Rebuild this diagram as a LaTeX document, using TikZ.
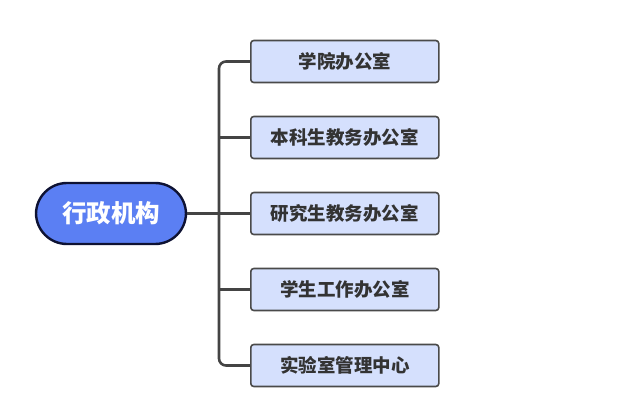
\documentclass[tikz,border=0pt]{standalone}
\usepackage{fontspec}
\setmainfont{Noto Sans CJK SC}
\usepackage{tikz}
\usetikzlibrary{calc,positioning}
\usepackage{xcolor}
\definecolor{rootfill}{HTML}{5B7FF3}
\definecolor{rootline}{HTML}{0E1233}
\definecolor{boxfill}{HTML}{D5E0FD}
\definecolor{boxline}{HTML}{4A4A4A}
\definecolor{linkcol}{HTML}{444444}
\definecolor{textcol}{HTML}{333333}
\tikzset{root/.style={draw=rootline, fill=rootfill, line width=2.4pt,
           rounded corners=31pt, minimum width=150pt, minimum height=61pt,
           text=white, font=\fontsize{24.5}{26}\selectfont\bfseries},
         office/.style={draw=boxline, fill=boxfill, line width=1.6pt,
           rounded corners=3pt, minimum width=188pt, minimum height=42pt,
           inner xsep=20pt, anchor=west, text=textcol,
           font=\fontsize{18.5}{20}\selectfont\bfseries},
         link/.style={draw=linkcol, line width=2.6pt, rounded corners=7pt}}

\begin{document}
\begin{tikzpicture}[x=1pt,y=1pt]
		\useasboundingbox (0,0) rectangle (630,-420);
		\node[root] (admin) at (111,-213.5) {行政机构};
		\node[office] (o1) at (250,-61.5) {学院办公室};
		\node[office] (o2) at (250,-137.5) {本科生教务办公室};
		\node[office] (o3) at (250,-213.5) {研究生教务办公室};
		\node[office] (o4) at (250,-289.5) {学生工作办公室};
		\node[office] (o5) at (250,-365.5) {实验室管理中心};
		\coordinate (trunk) at (219,0);
		\draw[link] (o1.west) -- (o1.west -| trunk) |- (o5.west);
		\draw[link] (o2.west) -- (o2.west -| trunk);
		\draw[link] (o4.west) -- (o4.west -| trunk);
		\draw[link] (admin.east) -- (o3.west);
	\end{tikzpicture}
\end{document}
